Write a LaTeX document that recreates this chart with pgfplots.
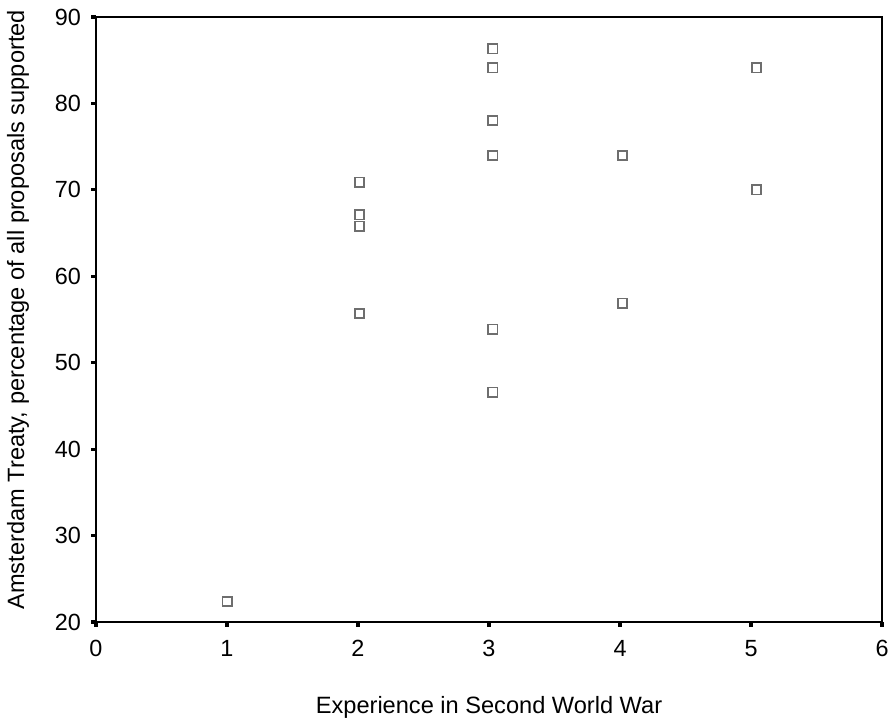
\documentclass[border=0pt]{standalone}
\usepackage{fontspec}
\setmainfont{Liberation Sans}
\usepackage{pgfplots}
\pgfplotsset{compat=1.18}
\definecolor{markgray}{RGB}{110,110,110}
\begin{document}
\begin{tikzpicture}
\begin{axis}[
  name=ax,
  at={(0,0)}, anchor=south west,
  scale only axis,
  width=393pt, height=302.5pt,
  xmin=0, xmax=6, ymin=20, ymax=90,
  xtick={0,1,2,3,4,5,6},
  ytick={20,30,40,50,60,70,80,90},
  axis line style={line width=1.4pt},
  tick align=outside,
  xtick pos=left, ytick pos=left,
  major tick length=2.5pt,
  tick style={line width=1.6pt, black},
  /pgf/number format/assume math mode=true,
  ticklabel style={font=\fontsize{11.7}{14}\selectfont},
  xticklabel style={yshift=-3pt},
  yticklabel style={xshift=-1.5pt},
  xlabel={Experience in Second World War},
  ylabel={Amsterdam Treaty, percentage of all proposals supported},
  label style={font=\fontsize{11.8}{14}\selectfont},
  xlabel style={at={(rel axis cs:0.5,0)}, anchor=center, yshift=-42.5pt},
  ylabel style={at={(rel axis cs:0,0.516)}, anchor=center, yshift=39pt},
  clip=false,
]
\addplot[only marks, mark=square, mark size=2.3pt, mark options={line width=0.9pt, draw=markgray}]
coordinates {
(1.00,22.4)
(2.01,70.9) (2.01,67.1) (2.01,65.8) (2.01,55.7)
(3.03,86.3) (3.03,84.1) (3.03,78.0) (3.03,74.0) (3.03,53.9) (3.03,46.6)
(4.02,74.0) (4.02,56.9)
(5.04,84.1) (5.04,70.0)
};
\end{axis}
\pgfresetboundingbox
\path (-48pt,-49.5pt) rectangle (399pt,311pt);
\end{tikzpicture}
\end{document}
